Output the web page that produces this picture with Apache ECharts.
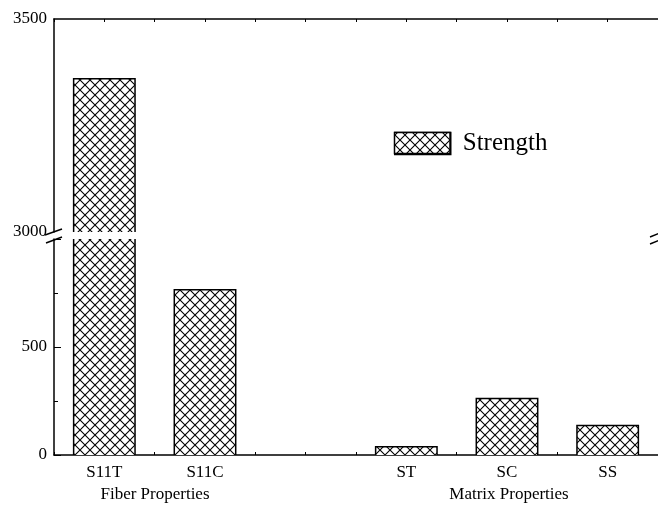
<!DOCTYPE html>
<html><head><meta charset="utf-8">
<script src="https://cdn.jsdelivr.net/npm/echarts@6/dist/echarts.min.js"></script>
<style>html,body{margin:0;padding:0;background:#fff}#c{width:658px;height:513px}</style>
</head><body><div id="c"></div>
<script>
var categories = ['S11T', 'S11C', '', 'ST', 'SC', 'SS'];
var strength = [3360, 765, null, 38, 262, 136];
var upperRange = [3000, 3500];
var lowerRange = [0, 1000];
var lowerTickLabels = [0, 500];
var groups = ['Fiber Properties', 'Matrix Properties'];

var FONT = '"Liberation Serif", "Times New Roman", serif';

function hatch() {
  var s = 10, c = document.createElement('canvas');
  c.width = s; c.height = s;
  var g = c.getContext('2d');
  g.fillStyle = '#fff'; g.fillRect(0, 0, s, s);
  g.strokeStyle = '#000'; g.lineWidth = 1.1;
  g.beginPath();
  g.moveTo(-2, -2); g.lineTo(s + 2, s + 2);
  g.moveTo(s + 2, -2); g.lineTo(-2, s + 2);
  g.stroke();
  return c;
}
var pat = { image: hatch(), repeat: 'repeat' };
var BW = 0.61, LW = 1.5;

function makeRender(range) {
  return function (params, api) {
    var v = api.value(1);
    if (v == null || isNaN(v) || v <= range[0]) return null;
    var i = api.value(0);
    var base = api.coord([i, range[0]]);
    var top = api.coord([i, Math.min(v, range[1])]);
    var w = api.size([1, 0])[0] * BW;
    var x0 = base[0] - w / 2, x1 = base[0] + w / 2;
    var clippedTop = v > range[1];
    var children = [{
      type: 'rect', shape: { x: x0, y: top[1], width: w, height: base[1] - top[1] },
      style: { fill: pat, stroke: null }
    }];
    var ls = { stroke: '#000', lineWidth: LW, fill: null };
    if (clippedTop) {
      children.push({ type: 'line', shape: { x1: x0, y1: base[1], x2: x0, y2: top[1] }, style: ls });
      children.push({ type: 'line', shape: { x1: x1, y1: base[1], x2: x1, y2: top[1] }, style: ls });
    } else {
      children.push({ type: 'polyline', shape: { points: [[x0, base[1]], [x0, top[1]], [x1, top[1]], [x1, base[1]]] }, style: ls });
    }
    return { type: 'group', children: children };
  };
}

var seriesData = strength.map(function (v, i) { return [i, v == null ? NaN : v]; });

var chart = echarts.init(document.getElementById('c'));
var L = 54, W = 606;
chart.setOption({
  animation: false,
  legend: {
    data: [{ name: 'Strength', icon: 'rect', itemStyle: { color: pat, borderColor: '#000', borderWidth: 1.5 } }],
    left: 394, top: 131, padding: 0, itemWidth: 56, itemHeight: 22,
    textStyle: { fontFamily: FONT, fontSize: 25, color: '#000', padding: [0, 0, 0, 7] }
  },
  grid: [
    { left: L, width: W, top: 19, height: 213 },
    { left: L, width: W, top: 239, height: 216 }
  ],
  xAxis: [
    { gridIndex: 0, type: 'category', data: categories, position: 'top',
      axisLine: { lineStyle: { color: '#000', width: 1.5 } },
      axisTick: { show: false }, axisLabel: { show: false } },
    { gridIndex: 1, type: 'category', data: categories, position: 'bottom',
      axisLine: { lineStyle: { color: '#000', width: 1.5 } },
      axisTick: { show: false },
      axisLabel: { color: '#000', fontFamily: FONT, fontSize: 17, margin: 9 } },
    { gridIndex: 0, type: 'value', min: 0, max: 6, interval: 0.5, position: 'top',
      axisLine: { show: false }, splitLine: { show: false }, axisLabel: { show: false },
      axisTick: { inside: true, length: 3, lineStyle: { color: '#000' } } },
    { gridIndex: 1, type: 'value', min: 0, max: 6, interval: 0.5, position: 'bottom',
      axisLine: { show: false }, splitLine: { show: false }, axisLabel: { show: false },
      axisTick: { inside: true, length: 3, lineStyle: { color: '#000' } } }
  ],
  yAxis: [
    { gridIndex: 0, type: 'value', min: upperRange[0], max: upperRange[1], interval: 500,
      axisLine: { show: true, lineStyle: { color: '#000', width: 1.5 } },
      axisTick: { show: false }, splitLine: { show: false },
      axisLabel: { color: '#000', fontFamily: FONT, fontSize: 17, margin: 7,
        formatter: function (v) { return String(v); } } },
    { gridIndex: 1, type: 'value', min: lowerRange[0], max: lowerRange[1], interval: 500,
      axisLine: { show: true, lineStyle: { color: '#000', width: 1.5 } },
      axisTick: { inside: true, length: 7, lineStyle: { color: '#000' } },
      minorTick: { show: true, splitNumber: 2, length: 4, lineStyle: { color: '#000' } },
      splitLine: { show: false },
      axisLabel: { color: '#000', fontFamily: FONT, fontSize: 17, margin: 7,
        formatter: function (v) { return lowerTickLabels.indexOf(v) >= 0 ? String(v) : ''; } } }
  ],
  series: [
    { name: 'Strength', type: 'custom', xAxisIndex: 0, yAxisIndex: 0, data: seriesData,
      encode: { x: 0, y: 1 }, clip: true, renderItem: makeRender(upperRange),
      itemStyle: { color: pat, borderColor: '#000', borderWidth: 1.5 } },
    { name: 'Strength', type: 'custom', xAxisIndex: 1, yAxisIndex: 1, data: seriesData,
      encode: { x: 0, y: 1 }, clip: true, renderItem: makeRender(lowerRange),
      itemStyle: { color: pat, borderColor: '#000', borderWidth: 1.5 } }
  ],
  graphic: [
    { type: 'rect', z: 100, shape: { x: 394.5, y: 132.5, width: 55.5, height: 21 },
      style: { fill: pat, stroke: '#000', lineWidth: 1.5 } },
    { type: 'line', shape: { x1: 45, y1: 235, x2: 62, y2: 229 }, style: { stroke: '#000', lineWidth: 1.5 } },
    { type: 'line', shape: { x1: 46, y1: 243, x2: 62, y2: 237 }, style: { stroke: '#000', lineWidth: 1.5 } },
    { type: 'line', shape: { x1: 650, y1: 237, x2: 660, y2: 233 }, style: { stroke: '#000', lineWidth: 1.5 } },
    { type: 'line', shape: { x1: 650, y1: 244, x2: 660, y2: 240 }, style: { stroke: '#000', lineWidth: 1.5 } },
    { type: 'text', x: 155, y: 495, style: { text: groups[0], font: '17px ' + FONT, fill: '#000', align: 'center', verticalAlign: 'middle' } },
    { type: 'text', x: 509, y: 495, style: { text: groups[1], font: '17px ' + FONT, fill: '#000', align: 'center', verticalAlign: 'middle' } }
  ]
});
</script></body></html>
